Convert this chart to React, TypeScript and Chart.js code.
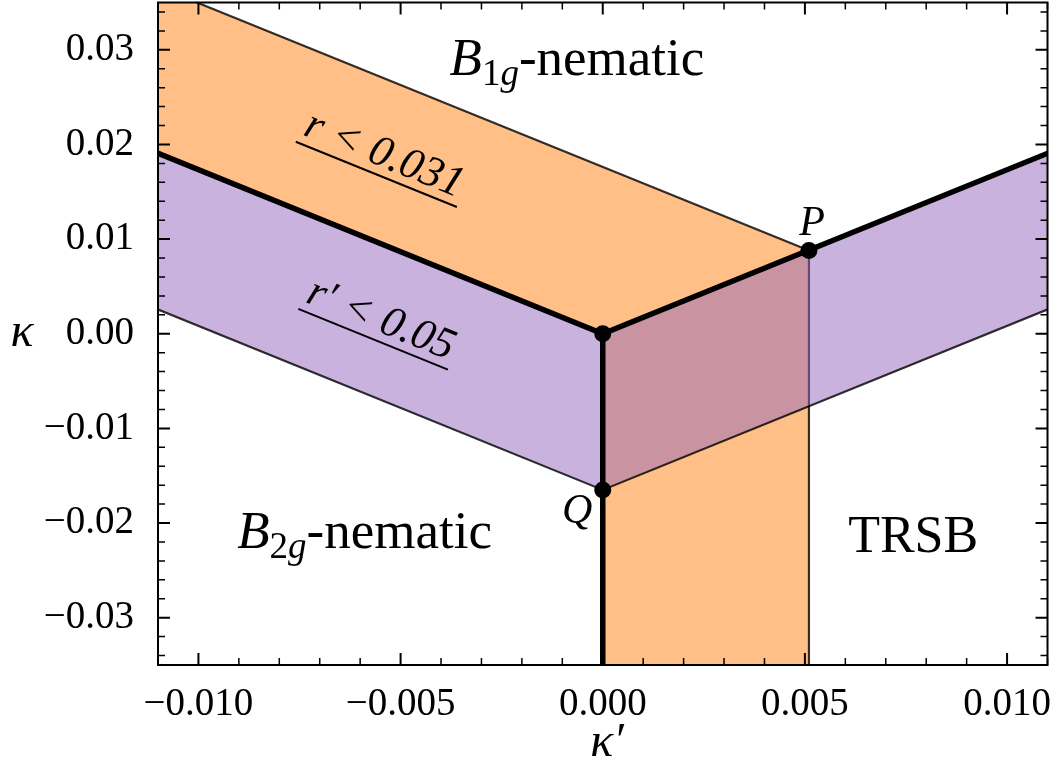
import React, { useEffect, useRef } from 'react';
import { Chart, registerables } from 'chart.js';

Chart.register(...registerables);

// ---------- data ----------
const xRange = [-0.011, 0.011];
const yRange = [-0.035, 0.035];
const xTicks = [-0.01, -0.005, 0, 0.005, 0.01];
const xTickLabels = ['\u22120.010', '\u22120.005', '0.000', '0.005', '0.010'];
const yTicks = [0.03, 0.02, 0.01, 0, -0.01, -0.02, -0.03];
const yTickLabels = ['0.03', '0.02', '0.01', '0.00', '\u22120.01', '\u22120.02', '\u22120.03'];

const pointO = { x: 0, y: 0 };
const pointP = { x: 0.0051, y: 0.0088 };
const pointQ = { x: 0, y: -0.0165 };
const criticalPoints = [pointO, pointP, pointQ];

// thick phase boundaries
const boundaryArms = [
  { x: -0.012, y: 0.0208 },
  { x: 0, y: 0 },
  { x: 0.012, y: 0.0208 },
];
const boundaryStem = [
  { x: 0, y: 0 },
  { x: 0, y: -0.04 },
];

// r < 0.031 region (orange)
const orangeRegion = [
  { x: 0, y: -0.04 },
  { x: 0, y: 0 },
  { x: -0.012, y: 0.0208 },
  { x: -0.012, y: 0.0384 },
  { x: 0.0051, y: 0.0088 },
  { x: 0.0051, y: -0.04 },
  { x: 0, y: -0.04 },
];

// r' < 0.05 region (purple)
const purpleRegion = [
  { x: -0.012, y: 0.0208 },
  { x: 0, y: 0 },
  { x: 0.012, y: 0.0208 },
  { x: 0.012, y: 0.0043 },
  { x: 0, y: -0.0165 },
  { x: -0.012, y: 0.0043 },
  { x: -0.012, y: 0.0208 },
];

const SERIF = '"Liberation Serif", "Times New Roman", serif';
const CANVAS_W = 1056;
const CANVAS_H = 775;
const SHIFT_Y = 6;

type Part = { t: string; f: string; dy: number };

function drawParts(ctx: CanvasRenderingContext2D, parts: Part[], x: number, y: number) {
  let cx = x;
  for (const p of parts) {
    ctx.font = p.f;
    ctx.fillText(p.t, cx, y + p.dy);
    cx += ctx.measureText(p.t).width;
  }
}

const annotationPlugin = {
  id: 'annotations',
  afterDraw(chart: any) {
    const { ctx, chartArea, scales } = chart;
    const xs = scales.x;
    const ys = scales.y;
    const px = (v: number) => xs.getPixelForValue(v);
    const py = (v: number) => ys.getPixelForValue(v);
    const { left, right, top, bottom } = chartArea;

    ctx.save();
    ctx.fillStyle = '#000';
    ctx.strokeStyle = '#000';

    const drawXTick = (v: number, len: number, w: number) => {
      const X = px(v);
      ctx.lineWidth = w;
      ctx.beginPath();
      ctx.moveTo(X, bottom);
      ctx.lineTo(X, bottom - len);
      ctx.moveTo(X, top);
      ctx.lineTo(X, top + len);
      ctx.stroke();
    };
    const drawYTick = (v: number, len: number, w: number) => {
      const Y = py(v);
      ctx.lineWidth = w;
      ctx.beginPath();
      ctx.moveTo(left, Y);
      ctx.lineTo(left + len, Y);
      ctx.moveTo(right, Y);
      ctx.lineTo(right - len, Y);
      ctx.stroke();
    };
    for (let i = -11; i <= 11; i++) {
      if (i % 5 === 0) continue;
      drawXTick(i * 0.001, 7, 1.5);
    }
    for (const v of xTicks) drawXTick(v, 12, 2);
    for (let i = -17; i <= 17; i++) {
      if (i % 5 === 0) continue;
      drawYTick(i * 0.002, 7, 1.5);
    }
    for (const v of yTicks) drawYTick(v, 12, 2);

    ctx.lineWidth = 2;
    ctx.strokeRect(left, top, right - left, bottom - top);

    ctx.textAlign = 'left';
    ctx.textBaseline = 'alphabetic';
    drawParts(
      ctx,
      [
        { t: 'B', f: `italic 53px ${SERIF}`, dy: 0 },
        { t: '1', f: `37px ${SERIF}`, dy: 10 },
        { t: 'g', f: `italic 37px ${SERIF}`, dy: 10 },
        { t: '-nematic', f: `53px ${SERIF}`, dy: 0 },
      ],
      px(-0.00379),
      py(0.02729)
    );
    drawParts(
      ctx,
      [
        { t: 'B', f: `italic 53px ${SERIF}`, dy: 0 },
        { t: '2', f: `37px ${SERIF}`, dy: 10 },
        { t: 'g', f: `italic 37px ${SERIF}`, dy: 10 },
        { t: '-nematic', f: `53px ${SERIF}`, dy: 0 },
      ],
      px(-0.00904),
      py(-0.02265)
    );
    ctx.font = `52px ${SERIF}`;
    ctx.fillText('TRSB', px(0.00607), py(-0.02307));

    ctx.textAlign = 'center';
    ctx.font = `italic 42px ${SERIF}`;
    ctx.fillText('P', px(0.00518), py(0.0104));
    ctx.fillText('Q', px(-0.00063), py(-0.0200));

    const slopeAngle = Math.atan2(py(-0.01732) - py(0), px(0.01) - px(0));
    const underlined = (text: string, cxv: number, cyv: number) => {
      ctx.save();
      ctx.translate(px(cxv), py(cyv));
      ctx.rotate(slopeAngle);
      ctx.font = `italic 44px ${SERIF}`;
      ctx.textAlign = 'center';
      ctx.textBaseline = 'alphabetic';
      const w = ctx.measureText(text).width;
      ctx.fillText(text, 0, -9);
      ctx.lineWidth = 2;
      ctx.beginPath();
      ctx.moveTo(-w / 2 - 3, 0);
      ctx.lineTo(w / 2 + 3, 0);
      ctx.stroke();
      ctx.restore();
    };
    underlined('r < 0.031', -0.0056, 0.01684);
    underlined('r\u2032 < 0.05', -0.00568, -0.00058);

    ctx.textAlign = 'center';
    ctx.textBaseline = 'middle';
    ctx.font = `italic 48px ${SERIF}`;
    ctx.fillText('\u03BA', 22, 333 + SHIFT_Y);
    ctx.fillText('\u03BA\u2032', 607, 743 + SHIFT_Y);

    ctx.restore();
  },
};

const zeroPadding = (scale: any) => {
  scale.paddingTop = 0;
  scale.paddingBottom = 0;
  scale.paddingLeft = 0;
  scale.paddingRight = 0;
};

export default function App() {
  const canvasRef = useRef<HTMLCanvasElement | null>(null);

  useEffect(() => {
    document.body.style.margin = '0';
    const canvas = canvasRef.current;
    if (!canvas) return;
    const chart = new Chart(canvas, {
      type: 'line',
      data: {
        datasets: [
          {
            label: 'critical points',
            data: criticalPoints,
            showLine: false,
            pointRadius: 8.5,
            pointHoverRadius: 8.5,
            pointBackgroundColor: '#000',
            pointBorderColor: '#000',
            pointBorderWidth: 0,
            fill: false,
            clip: false as any,
          },
          {
            label: 'boundary arms',
            data: boundaryArms,
            borderColor: '#000',
            borderWidth: 5.5,
            pointRadius: 0,
            fill: false,
            tension: 0,
            clip: 0 as any,
          },
          {
            label: 'boundary stem',
            data: boundaryStem,
            borderColor: '#000',
            borderWidth: 5.5,
            pointRadius: 0,
            fill: false,
            tension: 0,
            clip: 0 as any,
          },
          {
            label: "r' < 0.05",
            data: purpleRegion,
            borderColor: 'rgba(0,0,0,0.8)',
            borderWidth: 2.2,
            backgroundColor: 'rgba(148,103,189,0.5)',
            pointRadius: 0,
            fill: 'shape' as any,
            tension: 0,
            clip: 0 as any,
          },
          {
            label: 'r < 0.031',
            data: orangeRegion,
            borderColor: 'rgba(0,0,0,0.8)',
            borderWidth: 2.2,
            backgroundColor: 'rgba(255,127,14,0.5)',
            pointRadius: 0,
            fill: 'shape' as any,
            tension: 0,
            clip: 0 as any,
          },
        ],
      },
      options: {
        responsive: false,
        animation: false,
        devicePixelRatio: 1,
        layout: { padding: 0 },
        plugins: {
          legend: { display: false },
          tooltip: { enabled: false },
        },
        events: [],
        scales: {
          x: {
            type: 'linear',
            min: xRange[0],
            max: xRange[1],
            grid: { display: false },
            border: { display: false },
            afterBuildTicks: (scale: any) => {
              scale.ticks = xTicks.map((v) => ({ value: v }));
            },
            afterFit: (scale: any) => {
              scale.height = 104;
              zeroPadding(scale);
            },
            ticks: {
              font: { family: SERIF, size: 39 },
              color: '#000',
              padding: 8,
              maxRotation: 0,
              autoSkip: false,
              callback: (value: any) => {
                const i = xTicks.findIndex((t) => Math.abs(t - Number(value)) < 1e-9);
                return i >= 0 ? xTickLabels[i] : '';
              },
            },
          },
          y: {
            type: 'linear',
            min: yRange[0],
            max: yRange[1],
            grid: { display: false },
            border: { display: false },
            afterBuildTicks: (scale: any) => {
              scale.ticks = yTicks.map((v) => ({ value: v }));
            },
            afterFit: (scale: any) => {
              scale.width = 158;
              zeroPadding(scale);
            },
            ticks: {
              font: { family: SERIF, size: 39 },
              color: '#000',
              padding: 16,
              autoSkip: false,
              callback: (value: any) => {
                const i = yTicks.findIndex((t) => Math.abs(t - Number(value)) < 1e-9);
                return i >= 0 ? yTickLabels[i] : '';
              },
            },
          },
        },
      },
      plugins: [annotationPlugin],
    });
    return () => chart.destroy();
  }, []);

  return (
    <div style={{ width: 1051, height: 769, overflow: 'hidden', background: '#fff' }}>
      <canvas
        ref={canvasRef}
        width={CANVAS_W}
        height={CANVAS_H}
        style={{ display: 'block', marginTop: -SHIFT_Y, width: CANVAS_W, height: CANVAS_H }}
      />
    </div>
  );
}
